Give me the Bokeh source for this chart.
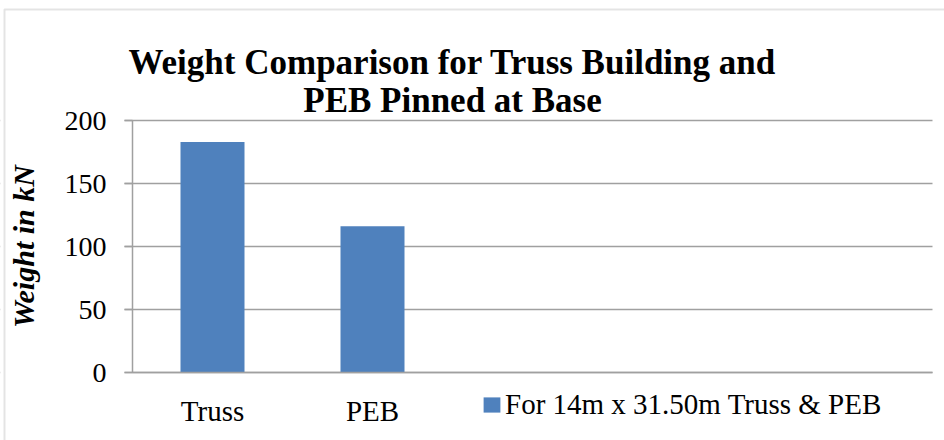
from bokeh.plotting import figure
from bokeh.models import Range1d, FixedTicker, Label, BoxAnnotation, Legend, LegendItem
from bokeh.embed import file_html
from bokeh.resources import INLINE

# ---- data ----
categories = ["Truss", "PEB"]
weights = [183, 116]
n_slots = 5                      # category slots on the x axis (3 empty)
y_ticks = [0, 50, 100, 150, 200]
series_name = "For 14m x 31.50m Truss & PEB"
title_lines = ["Weight Comparison for Truss Building and", "PEB Pinned at Base"]
y_label = "Weight in kN"

# ---- layout constants (pixels) ----
W, H = 944, 440
AX_LEFT, AX_RIGHT = 132, 932     # plot area left/right
AX_TOP, AX_BOTTOM = 120, 372     # y=200 / y=0
Y_MAX = y_ticks[-1]

FONT = "Liberation Serif"
GRID = "#a0a0a0"
BAR = "#4f81bd"

slot_px = (AX_RIGHT - AX_LEFT) / n_slots
y_px = (AX_BOTTOM - AX_TOP) / Y_MAX

x_range = Range1d(-AX_LEFT / slot_px, (W - AX_LEFT) / slot_px)
y_range = Range1d(-(H - AX_BOTTOM) / y_px, AX_BOTTOM / y_px)

p = figure(width=W, height=H, x_range=x_range, y_range=y_range,
           output_backend="svg", toolbar_location=None,
           min_border_left=0, min_border_right=0, min_border_top=0, min_border_bottom=0)
p.outline_line_color = None
p.background_fill_color = "white"
p.border_fill_color = "white"

x_pos = [i + 0.5 for i in range(len(categories))]
bars = p.vbar(x=x_pos, top=weights, width=0.4, fill_color=BAR, line_color=None)

# grid
p.xgrid.grid_line_color = None
p.ygrid.ticker = FixedTicker(ticks=y_ticks)
p.ygrid.grid_line_color = GRID
p.ygrid.grid_line_width = 1.5

# white covers so gridlines run only from the tick marks to the plot's right end
p.add_layout(BoxAnnotation(left=0, right=AX_LEFT - 8, top=H, bottom=0,
                           left_units="screen", right_units="screen",
                           top_units="screen", bottom_units="screen",
                           fill_color="white", fill_alpha=1, line_color=None,
                           level="underlay"))
p.add_layout(BoxAnnotation(left=AX_RIGHT, right=W, top=H, bottom=0,
                           left_units="screen", right_units="screen",
                           top_units="screen", bottom_units="screen",
                           fill_color="white", fill_alpha=1, line_color=None,
                           level="underlay"))

# y axis
ya = p.yaxis[0]
ya.fixed_location = 0
ya.bounds = (0, Y_MAX)
ya.ticker = FixedTicker(ticks=y_ticks)
ya.axis_line_color = GRID
ya.axis_line_width = 1.5
ya.major_tick_line_color = GRID
ya.major_tick_line_width = 1.5
ya.major_tick_in = 0
ya.major_tick_out = 8
ya.minor_tick_line_color = None
ya.major_label_text_font = FONT
ya.major_label_text_font_size = "28px"
ya.major_label_text_color = "black"
ya.major_label_standoff = 18
ya.axis_label = y_label
ya.axis_label_text_font = FONT
ya.axis_label_text_font_size = "30px"
ya.axis_label_text_font_style = "bold italic"
ya.axis_label_text_color = "black"
ya.axis_label_standoff = 22

# x axis
xa = p.xaxis[0]
xa.fixed_location = 0
xa.bounds = (0, n_slots)
xa.ticker = FixedTicker(ticks=x_pos)
xa.major_label_overrides = {x: c for x, c in zip(x_pos, categories)}
xa.axis_line_color = GRID
xa.axis_line_width = 1.5
xa.major_tick_line_color = None
xa.major_tick_in = 0
xa.major_tick_out = 0
xa.minor_tick_line_color = None
xa.major_label_text_font = FONT
xa.major_label_text_font_size = "29px"
xa.major_label_text_color = "black"
xa.major_label_standoff = 22

# legend
lg = Legend(items=[LegendItem(label=series_name, renderers=[bars])],
            location=(481, 19), orientation="vertical", padding=0, margin=0, spacing=0,
            border_line_color=None, background_fill_alpha=0,
            glyph_width=21, glyph_height=19, label_standoff=3,
            label_text_font=FONT, label_text_font_size="29px", label_text_color="black")
p.add_layout(lg, "center")

# title (two centered lines)
for txt, baseline in zip(title_lines, [62, 100]):
    p.add_layout(Label(x=452, y=H - baseline, x_units="screen", y_units="screen", text=txt,
                       text_align="center", text_baseline="alphabetic",
                       text_font=FONT, text_font_size="35px", text_font_style="bold",
                       text_color="black"))

# chart border (left and top visible in reference)
p.add_layout(BoxAnnotation(left=4, right=W + 20, top=H - 9, bottom=-20,
                           left_units="screen", right_units="screen",
                           top_units="screen", bottom_units="screen",
                           fill_alpha=0, line_color="#a6a6a6", line_width=2))

open("out.html", "w").write(file_html(p, INLINE))
